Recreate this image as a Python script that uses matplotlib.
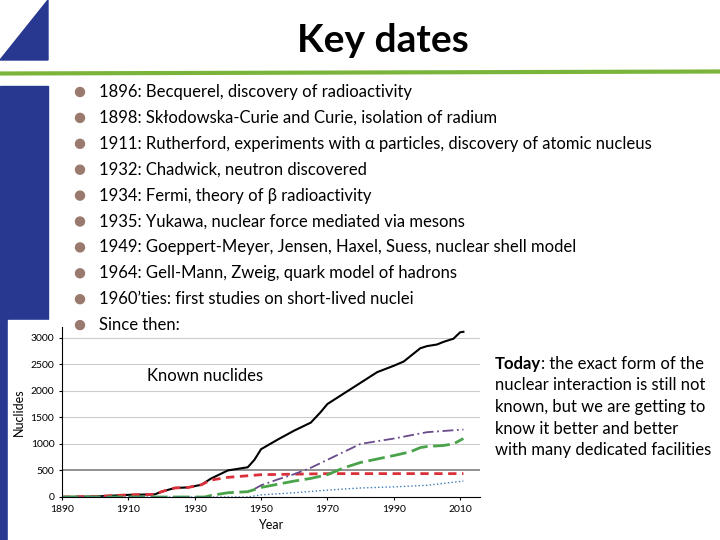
import matplotlib
matplotlib.use("Agg")
import matplotlib.pyplot as plt
from matplotlib.patches import Polygon, Rectangle, Circle

plt.rcParams['font.family'] = ['Lato', 'DejaVu Sans']

title = "Key dates"
bullets = [
    "1896: Becquerel, discovery of radioactivity",
    "1898: Skłodowska-Curie and Curie, isolation of radium",
    "1911: Rutherford, experiments with α particles, discovery of atomic nucleus",
    "1932: Chadwick, neutron discovered",
    "1934: Fermi, theory of β radioactivity",
    "1935: Yukawa, nuclear force mediated via mesons",
    "1949: Goeppert-Meyer, Jensen, Haxel, Suess, nuclear shell model",
    "1964: Gell-Mann, Zweig, quark model of hadrons",
    "1960’ties: first studies on short-lived nuclei",
    "Since then:",
]
today_text = [": the exact form of the", "nuclear interaction is still not",
              "known, but we are getting to", "know it better and better",
              "with many dedicated facilities"]

# known nuclides
tot_year = [1890, 1900, 1910, 1918, 1920, 1924, 1928, 1932, 1935, 1940, 1943, 1946, 1948,
            1950, 1955, 1960, 1965, 1968, 1970, 1975, 1980, 1985, 1990, 1993, 1995, 1998,
            2000, 2003, 2005, 2008, 2010, 2011]
tot_val = [0, 10, 40, 50, 100, 170, 180, 230, 350, 500, 530, 560, 700,
           900, 1080, 1250, 1400, 1600, 1750, 1950, 2150, 2350, 2470, 2550, 2650, 2800,
           2840, 2870, 2920, 2980, 3100, 3110]
red_year = [1890, 1900, 1910, 1918, 1920, 1924, 1928, 1932, 1935, 1940, 1950, 1960, 1970, 2011]
red_val = [0, 10, 40, 50, 100, 170, 180, 230, 320, 370, 420, 430, 440, 440]
pur_year = [1948, 1950, 1955, 1960, 1965, 1970, 1975, 1980, 1990, 2000, 2011]
pur_val = [150, 220, 330, 430, 550, 700, 850, 1000, 1100, 1220, 1270]
grn_year = [1890, 1933, 1935, 1940, 1946, 1950, 1955, 1960, 1965, 1970, 1975, 1980, 1990,
            1995, 1998, 2000, 2005, 2008, 2011]
grn_val = [0, 0, 30, 80, 100, 180, 240, 300, 350, 420, 550, 650, 780,
           850, 930, 950, 970, 1000, 1100]
blu_year = [1890, 1946, 1950, 1960, 1970, 1980, 1990, 2000, 2011]
blu_val = [0, 0, 40, 80, 130, 170, 190, 220, 300]

fig = plt.figure(figsize=(7.2, 5.4), dpi=100)
bg = fig.add_axes([0, 0, 1, 1])
bg.set_xlim(0, 720)
bg.set_ylim(540, 0)
bg.axis('off')

navy = '#283891'
bg.add_patch(Polygon([(0, 60), (48, 0), (48, 60)], color=navy))
bg.add_patch(Rectangle((0, 86), 48, 454, color=navy))
bg.plot([0, 720], [73.5, 71.5], color='#7bb43a', lw=3)
bg.text(383, 40, title, fontsize=28, fontweight='bold', ha='center', va='center')

# chart image area
bg.add_patch(Rectangle((8, 320), 477, 220, color='white', zorder=1))

for i, b in enumerate(bullets):
    y = 92 + i * 25.9
    bg.add_patch(Circle((80, y), 4.5, color='#9a7a6e', zorder=3))
    bg.text(99, y, b, fontsize=12, va='center', zorder=3)

ax = fig.add_axes([62 / 720, 1 - 497 / 540, (480 - 62) / 720, (497 - 327) / 540])
ax.patch.set_alpha(0)
ax.plot(tot_year, tot_val, color='black', lw=1.5)
ax.plot(red_year, red_val, color='#d9303a', lw=2, ls=(0, (3, 2)))
ax.plot(pur_year, pur_val, color='#6a4a8c', lw=1.3, ls=(0, (6, 2, 1, 2)))
ax.plot(grn_year, grn_val, color='#4aa34a', lw=2, ls=(0, (6, 2)))
ax.plot(blu_year, blu_val, color='#3a7ab8', lw=1, ls=':')
ax.axhline(500, color='#888888', lw=1.3, zorder=0)
for v in [1000, 1500, 2000, 2500, 3000]:
    ax.axhline(v, color='#cccccc', lw=0.8, zorder=0)
ax.set_xlim(1890, 2016)
ax.set_ylim(0, 3200)
ax.set_xticks([1890, 1910, 1930, 1950, 1970, 1990, 2010])
ax.set_yticks([0, 500, 1000, 1500, 2000, 2500, 3000])
ax.tick_params(labelsize=7.5, length=2)
for s in ['top', 'right']:
    ax.spines[s].set_visible(False)
ax.set_xlabel("Year", fontsize=9)
ax.set_ylabel("Nuclides", fontsize=9)
bg.text(147, 376, "Known nuclides", fontsize=12, va='center', zorder=3)

t1 = bg.text(495, 364, "Today", fontsize=12, fontweight='bold', va='center', zorder=3)
fig.canvas.draw()
bb = t1.get_window_extent()
bg.text(495 + bb.width, 364, today_text[0], fontsize=12, va='center', zorder=3)
for i, t in enumerate(today_text[1:]):
    bg.text(495, 385.5 + i * 21.5, t, fontsize=12, va='center', zorder=3)

fig.savefig("out.png", dpi=100)
